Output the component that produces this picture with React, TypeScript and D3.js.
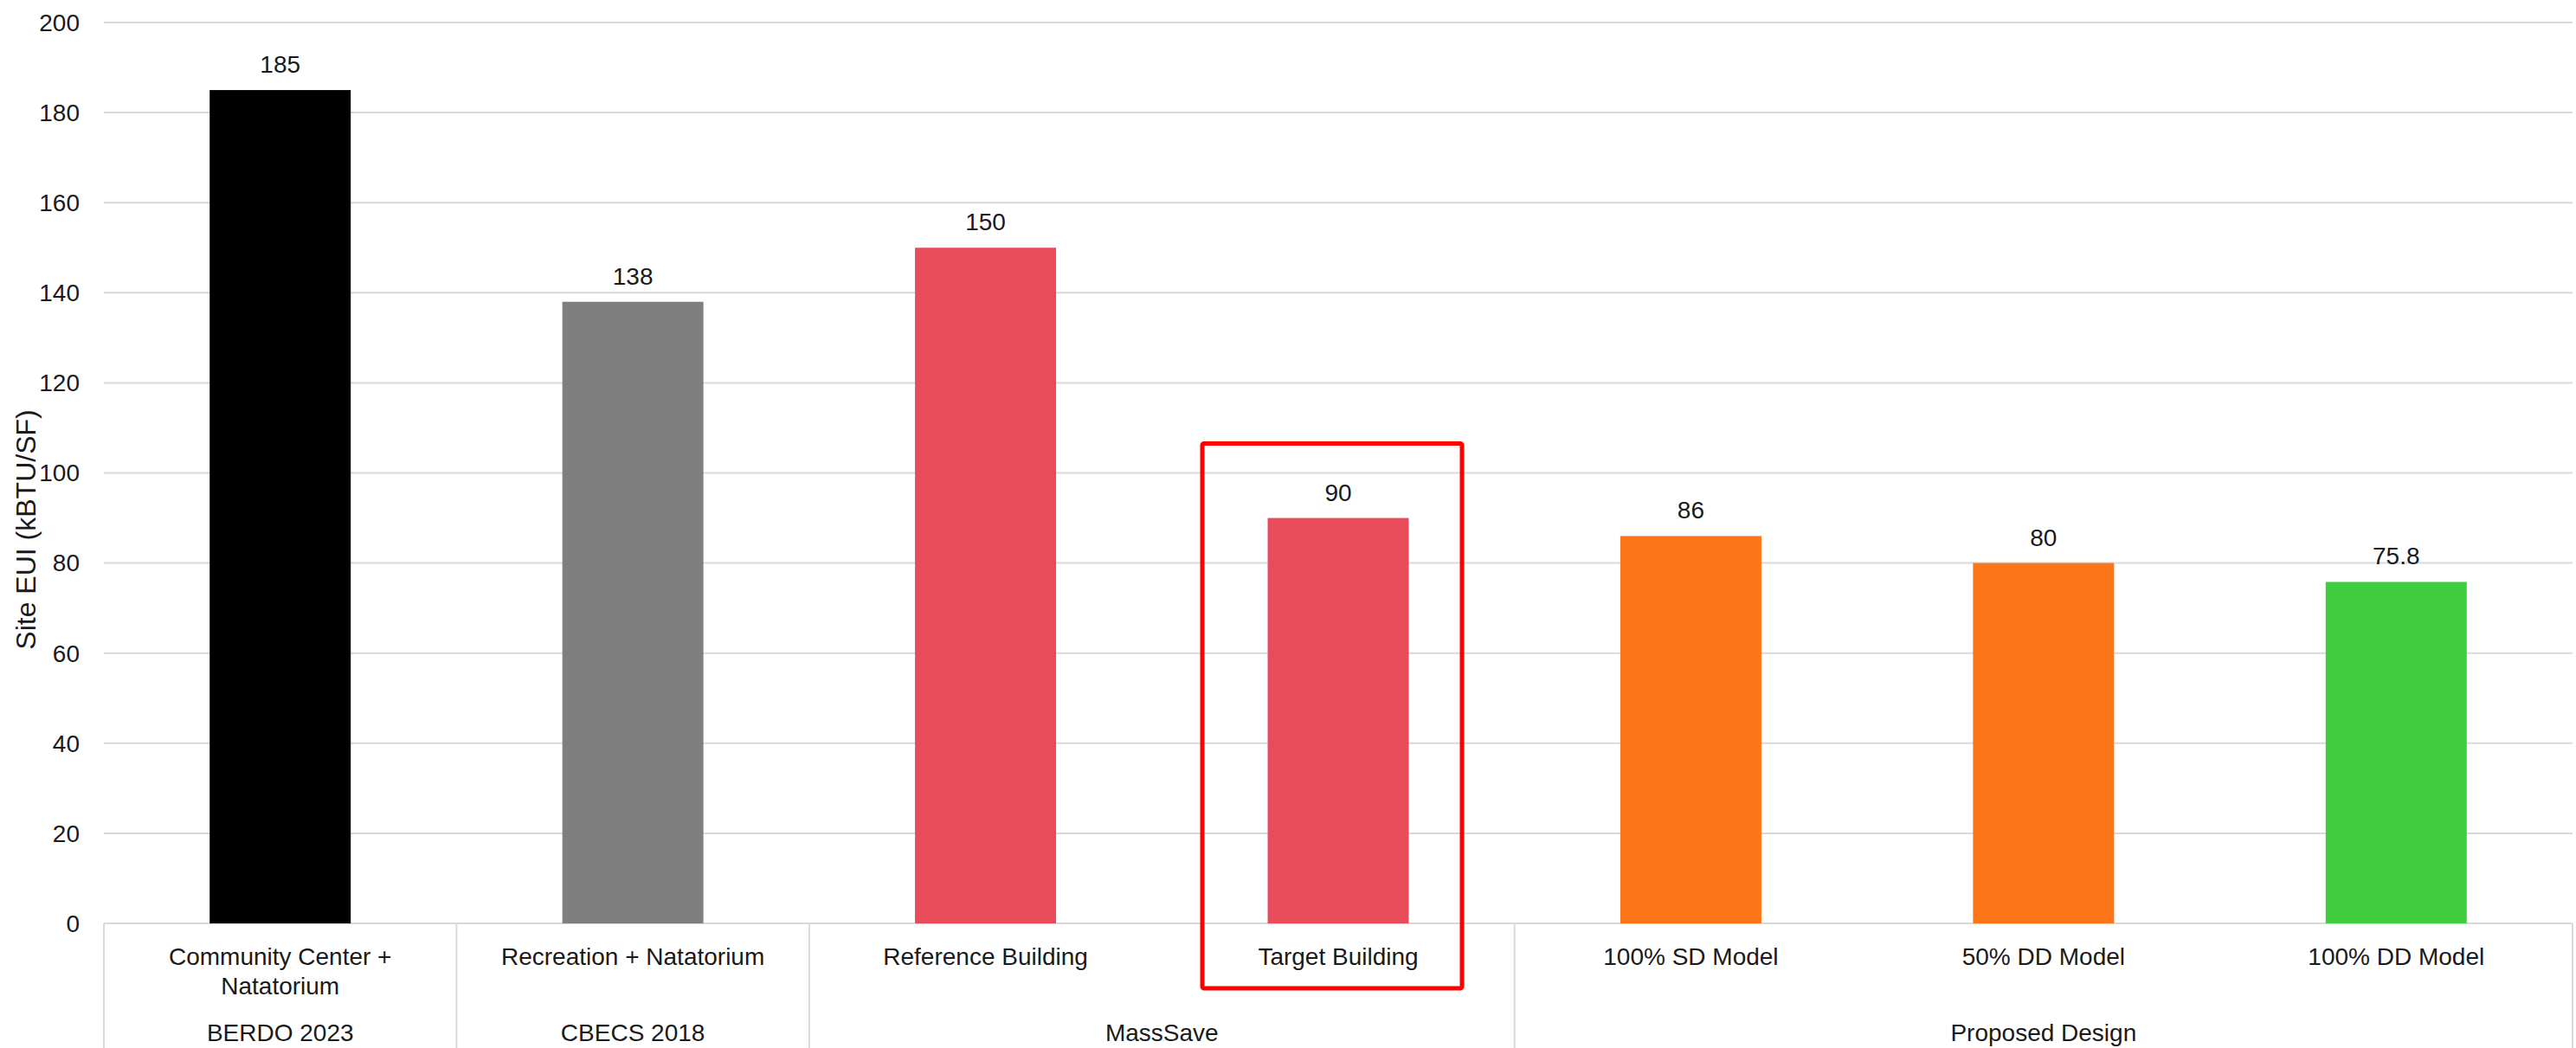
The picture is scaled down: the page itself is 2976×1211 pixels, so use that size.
import React from 'react';
import * as d3 from 'd3';

const categories = [
  'Community Center +\nNatatorium',
  'Recreation + Natatorium',
  'Reference Building',
  'Target Building',
  '100% SD Model',
  '50% DD Model',
  '100% DD Model',
];
const values = [185, 138, 150, 90, 86, 80, 75.8];
const valueLabels = ['185', '138', '150', '90', '86', '80', '75.8'];
const barColors = ['#000000', '#7f7f7f', '#e84c5b', '#e84c5b', '#fd7519', '#fd7519', '#3fcd3f'];
const groups = ['BERDO 2023', 'CBECS 2018', 'MassSave', 'Proposed Design'];
const groupSizes = [1, 1, 2, 3];
const yTicks = [0, 20, 40, 60, 80, 100, 120, 140, 160, 180, 200];
const highlighted = 'Target Building';

const W = 2976;
const H = 1211;
const margin = { top: 26, right: 4, bottom: 144, left: 120 };
const font = 'Arial, "Liberation Sans", sans-serif';

const App = () => {
  const x = d3
    .scaleBand()
    .domain(categories)
    .range([margin.left, W - margin.right])
    .padding(0);

  const y = d3
    .scaleLinear()
    .domain([0, 200])
    .range([H - margin.bottom, margin.top]);

  const bw = x.bandwidth() * 0.4;
  const base = y(0);

  // group boundaries along the category axis
  let idx = 0;
  const groupSpans = groups.map((g, i) => {
    const start = x(categories[idx]);
    idx += groupSizes[i];
    const end = idx < categories.length ? x(categories[idx]) : W - margin.right;
    return { g, start, end };
  });

  const hx = x(highlighted) + x.bandwidth() / 2;

  return (
    <svg
      width={W}
      height={H}
      style={{ position: 'absolute', left: 0, top: 0, display: 'block', background: '#fff' }}
      fontFamily={font}
    >
      {/* gridlines + y ticks */}
      {yTicks.map((t) => (
        <g key={t}>
          <line x1={margin.left} x2={W - margin.right} y1={y(t)} y2={y(t)} stroke="#d9d9d9" strokeWidth={2} />
          <text x={92} y={y(t)} dy="0.35em" textAnchor="end" fontSize={28} fill="#1a1a1a">
            {t}
          </text>
        </g>
      ))}

      <text
        transform={`translate(41,612) rotate(-90)`}
        textAnchor="middle"
        fontSize={32}
        fill="#1a1a1a"
      >
        Site EUI (kBTU/SF)
      </text>

      {/* bars */}
      {categories.map((c, i) => {
        const cx = x(c) + x.bandwidth() / 2;
        return (
          <g key={c}>
            <rect x={cx - bw / 2} y={y(values[i])} width={bw} height={base - y(values[i])} fill={barColors[i]} />
            <text x={cx} y={y(values[i]) - 20} textAnchor="middle" fontSize={28} fill="#1a1a1a">
              {valueLabels[i]}
            </text>
            {c.split('\n').map((line, j) => (
              <text key={j} x={cx} y={base + 48 + j * 34} textAnchor="middle" fontSize={28} fill="#1a1a1a">
                {line}
              </text>
            ))}
          </g>
        );
      })}

      {/* category axis dividers */}
      {groupSpans.map((s, i) => (
        <g key={s.g}>
          {i === 0 && <line x1={s.start} x2={s.start} y1={base} y2={H} stroke="#d9d9d9" strokeWidth={2} />}
          <line x1={s.end} x2={s.end} y1={base} y2={H} stroke="#d9d9d9" strokeWidth={2} />
          <text x={(s.start + s.end) / 2} y={base + 136} textAnchor="middle" fontSize={28} fill="#1a1a1a">
            {s.g}
          </text>
        </g>
      ))}

      {/* highlight box */}
      <rect
        x={hx - 157}
        y={y(90) - 86}
        width={300}
        height={base + 75 - (y(90) - 86)}
        fill="none"
        stroke="#ff0000"
        strokeWidth={5}
        rx={2}
      />
    </svg>
  );
};

export default App;
